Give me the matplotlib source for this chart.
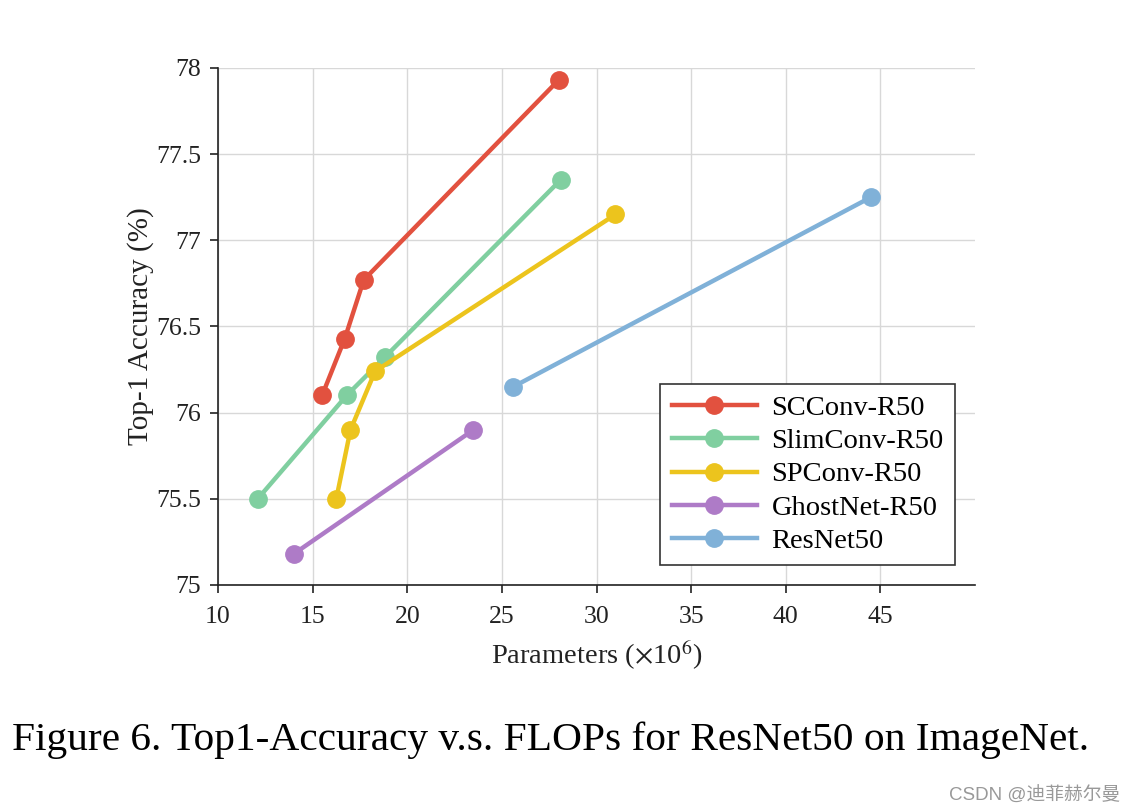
import matplotlib
matplotlib.use("Agg")
import matplotlib.pyplot as plt
from matplotlib.ticker import FuncFormatter

plt.rcParams['font.family'] = ['Liberation Serif', 'DejaVu Serif']
plt.rcParams['mathtext.fontset'] = 'stix'

names = ["SCConv-R50", "SlimConv-R50", "SPConv-R50", "GhostNet-R50", "ResNet50"]
colors = ["#e2513f", "#80cfa0", "#ecc41d", "#ae7bc7", "#80b1d8"]

scconv_x = [15.5, 16.7, 17.7, 28.0]
scconv_y = [76.10, 76.43, 76.77, 77.93]
slim_x = [12.1, 16.8, 18.8, 28.1]
slim_y = [75.50, 76.10, 76.32, 77.35]
spconv_x = [16.25, 17.0, 18.3, 31.0]
spconv_y = [75.50, 75.90, 76.24, 77.15]
ghost_x = [14.0, 23.5]
ghost_y = [75.18, 75.90]
resnet_x = [25.6, 44.5]
resnet_y = [76.15, 77.25]

series_x = [scconv_x, slim_x, spconv_x, ghost_x, resnet_x]
series_y = [scconv_y, slim_y, spconv_y, ghost_y, resnet_y]

xticks = [10, 15, 20, 25, 30, 35, 40, 45]
yticks = [75, 75.5, 76, 76.5, 77, 77.5, 78]

fig = plt.figure(figsize=(11.36, 8.11), dpi=100)
ax = fig.add_axes([0.1919, 0.2787, 0.6664, 0.6375])

for xs, ys, c, n in zip(series_x, series_y, colors, names):
    ax.plot(xs, ys, color=c, lw=3.2, marker='o', markersize=12.5, label=n, zorder=3)

ax.set_xlim(10, 50)
ax.set_ylim(75, 78)
ax.set_xticks(xticks)
ax.set_yticks(yticks)
ax.yaxis.set_major_formatter(FuncFormatter(lambda v, p: f"{v:g}"))
ax.grid(True, color='#d8d8d8', lw=1)
ax.set_axisbelow(True)
for s in ['top', 'right']:
    ax.spines[s].set_visible(False)
for s in ['left', 'bottom']:
    ax.spines[s].set_color('#222222')
    ax.spines[s].set_linewidth(1.2)
ax.tick_params(direction='out', length=6, width=1.2, labelsize=18.5, colors='#222222', labelcolor='#222222')
ax.tick_params(axis='x', pad=9)
ax.tick_params(axis='y', pad=6)

ax.set_xlabel(r'Parameters ($\times$10$^6$)', fontsize=20.5, color='#222222', labelpad=8)
ax.set_ylabel('Top-1 Accuracy (%)', fontsize=21, color='#222222', labelpad=2)

leg = ax.legend(loc='lower right', bbox_to_anchor=(0.9736, 0.0387), borderaxespad=0,
                fontsize=20.5, frameon=True, fancybox=False, edgecolor='#333333',
                handlelength=3.0, labelspacing=0.25, borderpad=0.4, handletextpad=0.5)
leg.get_frame().set_linewidth(1.2)
leg.get_frame().set_alpha(1)

fig.text(0.485, 0.087, 'Figure 6. Top1-Accuracy v.s. FLOPs for ResNet50 on ImageNet.',
         ha='center', va='center', fontsize=29.8, color='black')
fig.text(0.986, 0.019, 'CSDN @迪菲赫尔曼', ha='right', va='center', fontsize=13.5,
         color='#999999', family=['Liberation Sans', 'Noto Sans CJK SC'])

fig.savefig('out.png', dpi=100)
